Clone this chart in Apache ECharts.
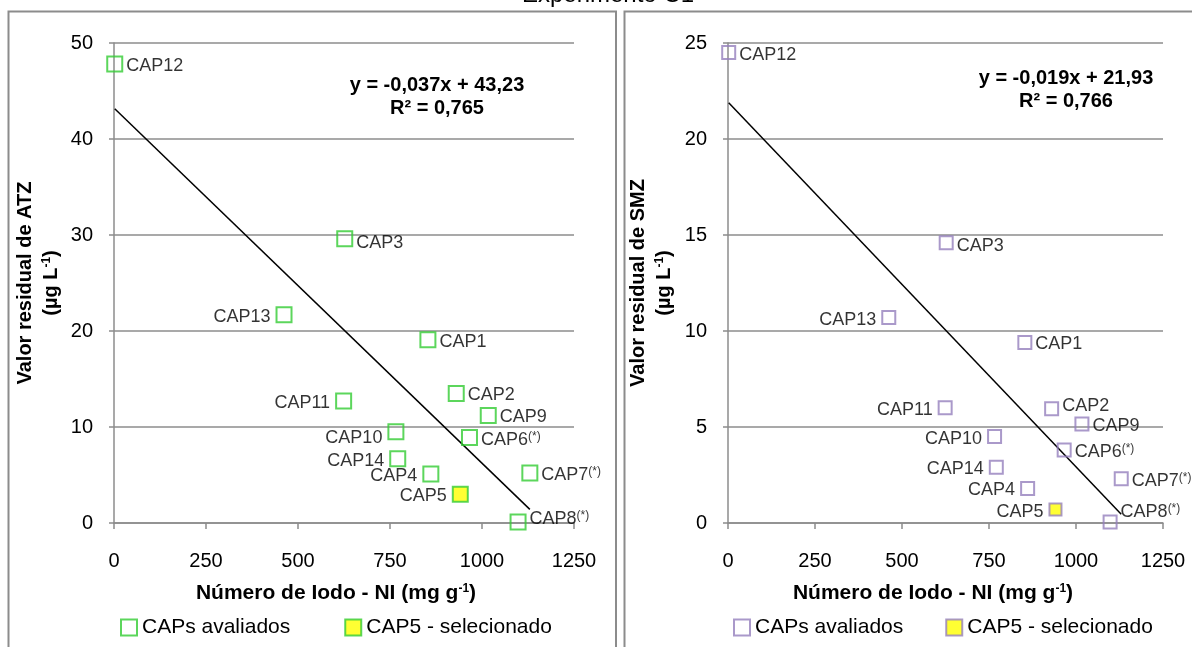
<!DOCTYPE html>
<html><head><meta charset="utf-8">
<script src="https://cdn.jsdelivr.net/npm/echarts@6/dist/echarts.min.js"></script>
<style>html,body{margin:0;padding:0;background:#fff}#c{width:1192px;height:647px}</style>
</head><body><div id="c"></div>
<script>
// ---- data ----
const title = 'Experimento C1';
const caps = ['CAP1','CAP2','CAP3','CAP4','CAP5','CAP6','CAP7','CAP8','CAP9','CAP10','CAP11','CAP12','CAP13','CAP14'];
const ni   = [853, 930, 627, 861, 941, 966, 1130, 1098, 1017, 766, 624, 2, 462, 771];
const atz  = [19.1, 13.5, 29.6, 5.1, 3.0, 8.9, 5.2, 0.1, 11.2, 9.5, 12.7, 47.8, 21.7, 6.7];
const smz  = [9.4, 5.95, 14.6, 1.8, 0.7, 3.8, 2.3, 0.05, 5.15, 4.5, 6.0, 24.5, 10.7, 2.9];
const starred = ['CAP6','CAP7','CAP8'];
const selectedCap = 'CAP5';
const seriesNames = ['CAPs avaliados', 'CAP5 - selecionado'];
const fitATZ = { slope: -0.037, intercept: 43.23, eq: 'y = -0,037x + 43,23', r2: '0,765' };
const fitSMZ = { slope: -0.019, intercept: 21.93, eq: 'y = -0,019x + 21,93', r2: '0,766' };
const xAxisTitle = 'Número de Iodo - NI (mg g';
const yTitleATZ = 'Valor residual de ATZ';
const yTitleSMZ = 'Valor residual de SMZ';

// ---- styling / layout ----
const FF = "'Liberation Sans', Arial, sans-serif";
const GRAY = '#8c8c8c';
const leftLabelled = ['CAP13','CAP11','CAP10','CAP14','CAP4','CAP5'];

const panels = [
  { values: atz, fit: fitATZ, yMax: 50, yInt: 10, color: '#33cc33', size: 15, selSize: 15,
    grid: { left: 114, top: 43, width: 460, height: 480 },
    tweak: { CAP8: -3, CAP10: 6, CAP3: 4 },
    eq: [437, 85, 108], yt: yTitleATZ, ytx: [25, 51], leg: 120, legGap: 54, xtx: 336 },
  { values: smz, fit: fitSMZ, yMax: 25, yInt: 5, color: '#9580bd', size: 13, selSize: 12,
    grid: { left: 728, top: 43, width: 435, height: 480 },
    tweak: { CAP8: -10, CAP2: -3, CAP3: 3 },
    eq: [1066, 78, 101], yt: yTitleSMZ, ytx: [638, 664], leg: 733, legGap: 42, xtx: 933 }
];

const grids = [], xAxes = [], yAxes = [], series = [], legends = [], graphics = [];

panels.forEach((p, i) => {
  grids.push(p.grid);
  xAxes.push({
    gridIndex: i, type: 'value', min: 0, max: 1250, interval: 250,
    axisLine: { show: true, lineStyle: { color: GRAY, width: 1.5 } },
    axisTick: { show: true, length: 6, lineStyle: { color: GRAY, width: 1.5 } },
    axisLabel: { margin: 28, color: '#000', fontSize: 20, fontFamily: FF, formatter: v => String(v) },
    splitLine: { show: false }
  });
  yAxes.push({
    gridIndex: i, type: 'value', min: 0, max: p.yMax, interval: p.yInt,
    axisLine: { show: true, lineStyle: { color: GRAY, width: 1.5 } },
    axisTick: { show: true, length: 5, lineStyle: { color: GRAY, width: 1.5 } },
    axisLabel: { margin: 21, color: '#000', fontSize: 20, fontFamily: FF, formatter: v => String(v) },
    splitLine: { show: true, lineStyle: { color: GRAY, width: 1.5 } }
  });
  const mk = (k) => {
    const name = caps[k];
    const left = leftLabelled.includes(name);
    const dy = (p.tweak[name] !== undefined ? p.tweak[name] : 2);
    return {
      name, value: [ni[k], p.values[k]],
      label: {
        show: true, position: left ? 'left' : 'right', distance: left ? 5 : 3,
        offset: [0, dy],
        formatter: name + (starred.includes(name) ? '{sup|(*)}' : ''),
        color: '#000', fontSize: 18, fontFamily: FF,
        rich: { sup: { fontSize: 12, fontFamily: FF, verticalAlign: 'top', color: '#000' } }
      }
    };
  };
  const idx = caps.map((c, k) => k);
  const x0 = Math.min(...ni), x1 = Math.max(...ni);
  series.push({
    type: 'line', xAxisIndex: i, yAxisIndex: i, silent: true, symbol: 'none', z: 3,
    lineStyle: { color: '#000', width: 1.5 },
    data: [[x0, p.fit.slope * x0 + p.fit.intercept], [x1, p.fit.slope * x1 + p.fit.intercept]]
  });
  series.push({
    name: seriesNames[0], type: 'scatter', xAxisIndex: i, yAxisIndex: i, symbol: 'rect',
    symbolSize: p.size, z: 4,
    itemStyle: { color: 'rgba(255,255,255,0)', borderColor: p.color, borderWidth: 2 },
    data: idx.filter(k => caps[k] !== selectedCap).map(mk)
  });
  series.push({
    name: seriesNames[1], type: 'scatter', xAxisIndex: i, yAxisIndex: i, symbol: 'rect',
    symbolSize: p.selSize, z: 4,
    itemStyle: { color: '#ffff00', borderColor: p.color, borderWidth: 2 },
    data: idx.filter(k => caps[k] === selectedCap).map(mk)
  });
  legends.push({
    left: p.leg, top: 617, padding: 0, itemWidth: 16, itemHeight: 16, itemGap: p.legGap, icon: 'rect',
    textStyle: { fontSize: 21, fontFamily: FF, color: '#000' }, selectedMode: false,
    data: [
      { name: seriesNames[0], itemStyle: { color: '#fff', borderColor: p.color, borderWidth: 2 } },
      { name: seriesNames[1], itemStyle: { color: '#ffff00', borderColor: p.color, borderWidth: 2 } }
    ]
  });
  graphics.push({ type: 'text', x: p.eq[0], y: p.eq[1], z: 10,
    style: { text: p.fit.eq, font: 'bold 20px ' + FF, fill: '#000', align: 'center', verticalAlign: 'middle' } });
  graphics.push({ type: 'text', x: p.eq[0], y: p.eq[2], z: 10,
    style: { text: 'R² = ' + p.fit.r2, font: 'bold 20px ' + FF, fill: '#000', align: 'center', verticalAlign: 'middle' } });
  const cy = p.grid.top + p.grid.height / 2;
  graphics.push({ type: 'text', x: p.ytx[0], y: cy, rotation: Math.PI / 2, z: 10,
    style: { text: p.yt, font: 'bold 20px ' + FF, fill: '#000', align: 'center', verticalAlign: 'middle' } });
  graphics.push({ type: 'text', x: p.ytx[1], y: cy, rotation: Math.PI / 2, z: 10,
    style: { text: '(µg L{s|-1})', font: 'bold 20px ' + FF, fill: '#000', align: 'center', verticalAlign: 'middle',
      rich: { s: { font: 'bold 12px ' + FF, fill: '#000', verticalAlign: 'top' } } } });
  graphics.push({ type: 'text', x: p.xtx, y: 593, z: 10,
    style: { text: xAxisTitle + '{s|-1}' + ')', font: 'bold 21px ' + FF, fill: '#000', align: 'center', verticalAlign: 'middle',
      rich: { s: { font: 'bold 12px ' + FF, fill: '#000', verticalAlign: 'top' } } } });
});

graphics.push({ type: 'rect', shape: { x: 8.5, y: 11.5, width: 607.5, height: 700 }, z: 0,
  style: { fill: 'none', stroke: GRAY, lineWidth: 2 } });
graphics.push({ type: 'rect', shape: { x: 624.5, y: 11.5, width: 600, height: 700 }, z: 0,
  style: { fill: 'none', stroke: GRAY, lineWidth: 2 } });
graphics.push({ type: 'text', x: 608, y: 7, z: 10,
  style: { text: title, font: '24px ' + FF, fill: '#000', align: 'center', verticalAlign: 'bottom' } });

const chart = echarts.init(document.getElementById('c'), null, { renderer: 'canvas' });
chart.setOption({
  animation: false, backgroundColor: '#fff',
  grid: grids, xAxis: xAxes, yAxis: yAxes, series, legend: legends, graphic: graphics
});
</script></body></html>
